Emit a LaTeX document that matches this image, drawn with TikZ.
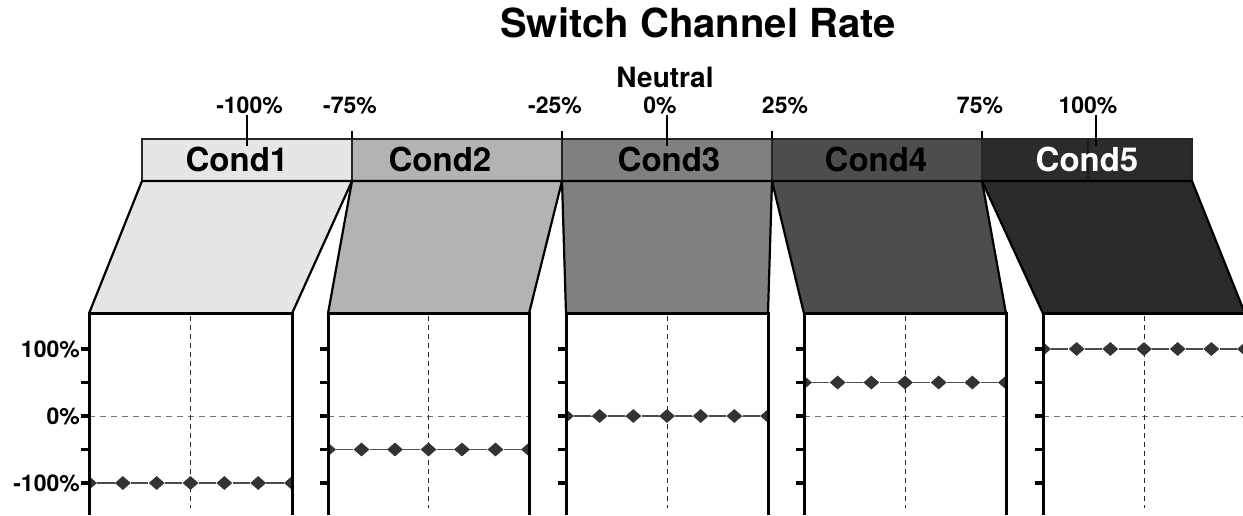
\documentclass[tikz,border=0pt]{standalone}
\usepackage{fontspec}
\setmainfont{TeX Gyre Heros}
\usepackage{tikz}
\usetikzlibrary{shapes.geometric, positioning}

\definecolor{cfill1}{HTML}{E6E6E6}
\definecolor{cfill2}{HTML}{B3B3B3}
\definecolor{cfill3}{HTML}{808080}
\definecolor{cfill4}{HTML}{4D4D4D}
\definecolor{cfill5}{HTML}{2B2B2B}

\begin{document}
\begin{tikzpicture}[
    x=1pt, y=-1pt,
    seg/.style={draw=black!85, line width=1.5pt, minimum width=210pt, minimum height=42pt, inner sep=0pt, outer sep=0pt, anchor=north west},
    segtext/.style={font=\fontsize{33}{36}\selectfont\bfseries, inner sep=0pt, anchor=base},
    pct/.style={font=\fontsize{23}{25}\selectfont\bfseries, inner sep=0pt, anchor=base},
    funnel/.style={draw=black, line width=2.2pt, line join=round},
    panel/.style={draw=black, line width=3pt},
    gridv/.style={dash pattern=on 5pt off 4pt, line width=0.9pt, black!85},
    gridh/.style={dash pattern=on 6pt off 5pt, line width=1pt, black!55},
    rate/.style={line width=1.3pt, black!70},
    pt/.style={diamond, fill=black!80, inner sep=0pt, minimum width=16pt, minimum height=14pt},
    bartick/.style={line width=1.6pt, black},
    axtick/.style={line width=3.5pt, black}
]
    \useasboundingbox (0,0) rectangle (1243,515);
    % Title and neutral heading
    \node[font=\fontsize{40}{42}\selectfont\bfseries, anchor=base, inner sep=0pt] (title) at (698,37) {Switch Channel Rate};
    \node[font=\fontsize{28}{30}\selectfont\bfseries, anchor=base, inner sep=0pt] (neutral) at (665,87) {Neutral};
    % Condition bar
    \node[seg, fill=cfill1] (seg1) at (142,139) {};
    \node[seg, fill=cfill2, right=0pt of seg1] (seg2) {};
    \node[seg, fill=cfill3, right=0pt of seg2] (seg3) {};
    \node[seg, fill=cfill4, right=0pt of seg3] (seg4) {};
    \node[seg, fill=cfill5, right=0pt of seg4] (seg5) {};
    % Funnels from the bar down to the panels
    \coordinate (p1nw) at (89,313.5);   \coordinate (p1ne) at (292,313.5);
    \coordinate (p2nw) at (328,313.5);  \coordinate (p2ne) at (529,313.5);
    \coordinate (p3nw) at (566,313.5);  \coordinate (p3ne) at (768,313.5);
    \coordinate (p4nw) at (804,313.5);  \coordinate (p4ne) at (1006,313.5);
    \coordinate (p5nw) at (1043,313.5); \coordinate (p5ne) at (1245,313.5);
    \filldraw[funnel, fill=cfill1] (seg1.south west) -- (seg1.south east) -- (p1ne) -- (p1nw) -- cycle;
    \filldraw[funnel, fill=cfill2] (seg2.south west) -- (seg2.south east) -- (p2ne) -- (p2nw) -- cycle;
    \filldraw[funnel, fill=cfill3] (seg3.south west) -- (seg3.south east) -- (p3ne) -- (p3nw) -- cycle;
    \filldraw[funnel, fill=cfill4] (seg4.south west) -- (seg4.south east) -- (p4ne) -- (p4nw) -- cycle;
    \filldraw[funnel, fill=cfill5] (seg5.south west) -- (seg5.south east) -- (p5ne) -- (p5nw) -- cycle;
    % Ticks above the bar
    \draw[bartick] (seg1.north east) -- ++(0,-8);
    \draw[bartick] (seg2.north east) -- ++(0,-8);
    \draw[bartick] (seg3.north east) -- ++(0,-8);
    \draw[bartick] (seg4.north east) -- ++(0,-8);
    \draw[bartick] (247,115) -- (247,146);
    \draw[bartick] (667,115) -- (667,146);
    \draw[line width=1.2pt, black!90] (1088,139) -- (1088,181);
    \draw[bartick] (1096,115) -- (1096,146);
    % Bar labels
    \node[segtext] (cond1) at (237,171.5) {Cond1};
    \node[segtext] (cond2) at (440,171.5) {Cond2};
    \node[segtext] (cond3) at (669,171.5) {Cond3};
    \node[segtext] (cond4) at (876,171.5) {Cond4};
    \node[segtext, white] (cond5) at (1087,171.5) {Cond5};
    % Percent labels
    \node[pct] (tm100) at (249.5,113) {-100\%};
    \node[pct] (tm75) at (350,113) {-75\%};
    \node[pct] (tm25) at (555,113) {-25\%};
    \node[pct] (t0) at (660,113) {0\%};
    \node[pct] (t25) at (785,113) {25\%};
    \node[pct] (t75) at (980,113) {75\%};
    \node[pct] (t100) at (1088,113) {100\%};
    \node[pct, anchor=base east] (y100) at (80,357) {100\%};
    \node[pct, anchor=base east] (y0) at (80,424) {0\%};
    \node[pct, anchor=base east] (ym100) at (80,491) {-100\%};
    % Rate panels
    \foreach \pl/\pr/\lev [count=\i] in {89/292/483, 328/529/449.5, 566/768/416, 804/1006/382.5, 1043/1245/349} {
        \foreach \ty in {349,382.5,416,449.5,483}
            \draw[axtick] (\pl-8.5,\ty) -- (\pl-1.5,\ty);
        \begin{scope}
            \clip (\pl,313.5) rectangle (\pr,515);
            \draw[gridh] (\pl,416) -- (\pr,416);
            \draw[gridv] ({(\pl+\pr)/2},316) -- ({(\pl+\pr)/2},508);
            \foreach \k in {0,...,6}
                \node[pt] (d\i\k) at ({\pl+\k*(\pr-\pl)/6},\lev) {};
            \foreach \k [count=\j] in {0,...,5}
                \draw[rate] (d\i\k) -- (d\i\j);
        \end{scope}
        \draw[panel] (\pl,515) -- (\pl,313.5) -- (\pr,313.5) -- (\pr,515);
    }
\end{tikzpicture}
\end{document}
